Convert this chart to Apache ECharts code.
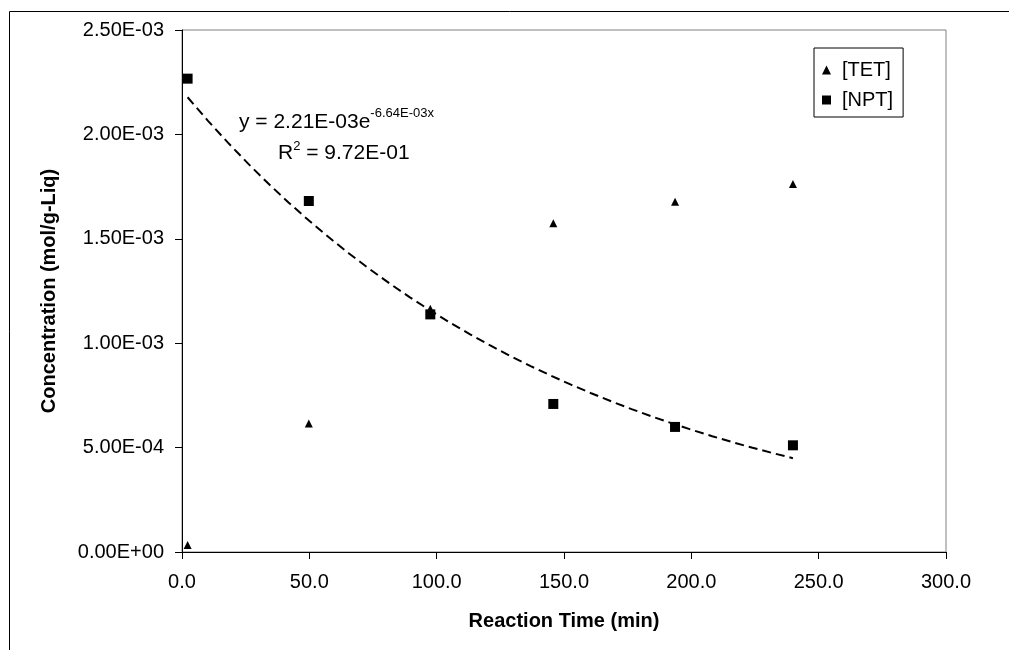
<!DOCTYPE html>
<html>
<head>
<meta charset="utf-8">
<script src="https://cdn.jsdelivr.net/npm/echarts@6/dist/echarts.min.js"></script>
<style>
  html, body { margin: 0; padding: 0; background: #fff; }
  #chart { width: 1009px; height: 650px; }
</style>
</head>
<body>
<div id="chart"></div>
<script>
// Sampling times (min)
const reactionTime = [2.2, 49.8, 97.5, 145.8, 193.6, 239.9];
// Liquid-phase concentrations (mol/g-Liq)
const tetConc = [0.034e-3, 0.616e-3, 1.165e-3, 1.575e-3, 1.677e-3, 1.762e-3];
const nptConc = [2.267e-3, 1.681e-3, 1.138e-3, 0.709e-3, 0.599e-3, 0.511e-3];
// Exponential fit for [NPT]: y = a * exp(b * x)
const fitA = 2.21e-3;
const fitB = -6.64e-3;
const fitR2 = 9.72e-1;
// Axis ticks
const xTicks = { min: 0, max: 300, step: 50 };
const yTicks = { min: 0, max: 2.5e-3, step: 5e-4 };

const FONT = 'Liberation Sans, Arial, sans-serif';

function sci(v) {
  const s = Number(v).toExponential(2);
  const [m, e] = s.split('e');
  const n = parseInt(e, 10);
  const sign = n < 0 ? '-' : '+';
  const d = String(Math.abs(n)).padStart(2, '0');
  return m + 'E' + sign + d;
}

// Fitted curve sampled across the measured time span
const fitCurve = [];
const x0 = reactionTime[0], x1 = reactionTime[reactionTime.length - 1];
const steps = 30;
for (let i = 0; i <= steps; i++) {
  const x = x0 + (x1 - x0) * i / steps;
  fitCurve.push([x, fitA * Math.exp(fitB * x)]);
}

const chart = echarts.init(document.getElementById('chart'), null, { renderer: 'canvas' });

chart.setOption({
  animation: false,
  backgroundColor: '#fff',
  grid: { left: 182, top: 30, right: 63, bottom: 98, show: true, borderColor: '#808080', borderWidth: 1 },
  xAxis: {
    type: 'value',
    min: xTicks.min, max: xTicks.max, interval: xTicks.step,
    name: 'Reaction Time (min)',
    nameLocation: 'middle',
    nameGap: 59,
    nameTextStyle: { fontFamily: FONT, fontSize: 20, fontWeight: 'bold', color: '#000' },
    axisLine: { lineStyle: { color: '#000', width: 1 } },
    axisTick: { show: true, length: 7, inside: false, lineStyle: { color: '#000' } },
    axisLabel: { margin: 20, fontFamily: FONT, fontSize: 20, color: '#000', formatter: v => v.toFixed(1) },
    splitLine: { show: false }
  },
  yAxis: {
    type: 'value',
    min: yTicks.min, max: yTicks.max, interval: yTicks.step,
    name: 'Concentration (mol/g-Liq)',
    nameLocation: 'middle',
    nameGap: 123,
    nameRotate: 90,
    nameTextStyle: { fontFamily: FONT, fontSize: 20, fontWeight: 'bold', color: '#000' },
    axisLine: { show: true, lineStyle: { color: '#000', width: 1 } },
    axisTick: { show: true, length: 7, inside: false, lineStyle: { color: '#000' } },
    axisLabel: { margin: 18, fontFamily: FONT, fontSize: 20, color: '#000', formatter: v => sci(v) },
    splitLine: { show: false }
  },
  legend: {
    orient: 'vertical',
    left: 814, top: 48,
    padding: [12, 10, 7, 8],
    itemGap: 10,
    itemWidth: 9, itemHeight: 9,
    borderColor: '#000', borderWidth: 1,
    backgroundColor: '#fff',
    textStyle: { fontFamily: FONT, fontSize: 20, lineHeight: 20, color: '#000', padding: [0, 0, 0, 6] },
    data: [
      { name: '[TET]', icon: 'triangle' },
      { name: '[NPT]', icon: 'rect' }
    ]
  },
  series: [
    {
      name: 'Exponential fit',
      type: 'line',
      data: fitCurve,
      showSymbol: false,
      symbol: 'none',
      smooth: false,
      lineStyle: { color: '#000', width: 2, type: [9, 5] },
      z: 1,
      silent: true
    },
    {
      name: '[TET]',
      type: 'scatter',
      symbol: 'triangle',
      symbolSize: 8,
      itemStyle: { color: '#000', opacity: 1 },
      data: reactionTime.map((t, i) => [t, tetConc[i]]),
      z: 3
    },
    {
      name: '[NPT]',
      type: 'scatter',
      symbol: 'rect',
      symbolSize: 10,
      itemStyle: { color: '#000', opacity: 1 },
      data: reactionTime.map((t, i) => [t, nptConc[i]]),
      z: 2
    }
  ],
  graphic: [
    {
      type: 'rect',
      silent: true,
      shape: { x: 9.5, y: 11.5, width: 1200, height: 1000 },
      style: { fill: 'none', stroke: '#000', lineWidth: 1 },
      z: -10
    },
    {
      type: 'text',
      left: 239, top: 107,
      style: {
        text: '{a|y = ' + sci(fitA) + 'e}{b|' + sci(fitB) + 'x}',
        rich: {
          a: { fontFamily: FONT, fontSize: 21, lineHeight: 30, fill: '#000', verticalAlign: 'middle' },
          b: { fontFamily: FONT, fontSize: 13, lineHeight: 14, fill: '#000', verticalAlign: 'top' }
        }
      },
      z: 10
    },
    {
      type: 'text',
      left: 278, top: 138,
      style: {
        text: '{a|R}{b|2}{a| = ' + sci(fitR2) + '}',
        rich: {
          a: { fontFamily: FONT, fontSize: 21, lineHeight: 30, fill: '#000', verticalAlign: 'middle' },
          b: { fontFamily: FONT, fontSize: 13, lineHeight: 14, fill: '#000', verticalAlign: 'top', padding: [2, 0, 0, 0] }
        }
      },
      z: 10
    }
  ]
});
</script>
</body>
</html>
